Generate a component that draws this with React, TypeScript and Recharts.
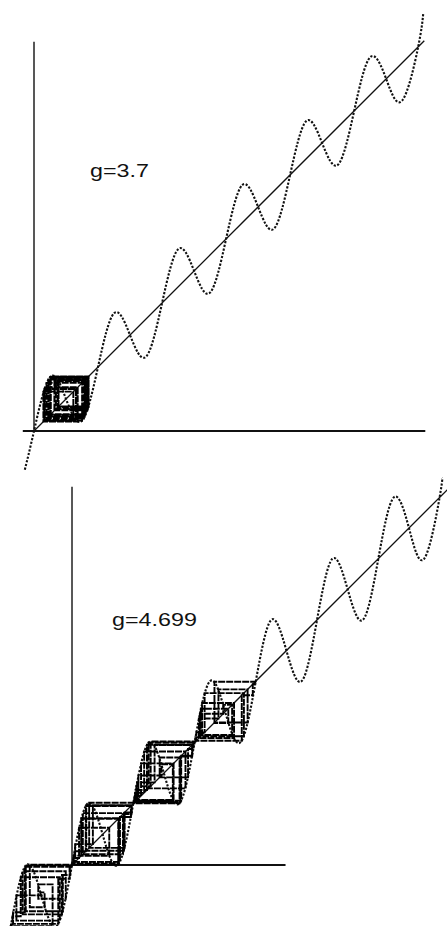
import React from "react";
import { LineChart, Line, XAxis, YAxis } from "recharts";

// g = 3.7 panel: curve y = x + g·sin(x), read at quarter periods
const topCurveX = [-0.9, 0, 1.57, 3.14, 4.71, 6.28, 7.85, 9.42, 11.0, 12.57, 14.14, 15.71, 17.28, 18.85, 20.42, 21.99, 23.56, 25.13, 26.7, 28.27, 29.85, 31.42, 32.99, 34.56, 36.13, 37.7, 38.2];
const topCurveY = [-3.8, 0, 5.27, 3.14, 1.01, 6.28, 11.55, 9.42, 7.3, 12.57, 17.84, 15.71, 13.58, 18.85, 24.12, 21.99, 19.86, 25.13, 30.4, 28.27, 26.15, 31.42, 36.69, 34.56, 32.43, 37.7, 41.0];
const topOrbit = [2.0, 5.36, 2.41, 4.88, 1.23, 4.72, 1.02, 4.17, 1.0, 4.11, 1.06, 4.29, 0.92, 3.86, 1.43, 5.09, 1.65, 5.34, 2.35, 4.98, 1.41, 5.06, 1.58, 5.28, 2.16, 5.24, 2.04];
const topAxisExtent = { xMin: -1.1, xMax: 38.4, yMax: 38.2, diag: 38.3 };

// g = 4.699 panel
const bottomCurveX = [-6.28, -4.71, -3.14, -1.57, 0, 1.57, 3.14, 4.71, 6.28, 7.85, 9.42, 11.0, 12.57, 14.14, 15.71, 17.28, 18.85, 20.42, 21.99, 23.56, 25.13, 26.7, 28.27, 29.85, 31.42, 32.99, 34.56, 36.13, 37.7, 37.95];
const bottomCurveY = [-6.28, -0.01, -3.14, -6.27, 0, 6.27, 3.14, 0.01, 6.28, 12.55, 9.42, 6.3, 12.57, 18.84, 15.71, 12.58, 18.85, 25.12, 21.99, 18.86, 25.13, 31.4, 28.27, 25.15, 31.42, 37.69, 34.56, 31.43, 37.7, 39.7];
const bottomOrbit = [
  -0.94, -4.74, -0.04, -0.25, -1.41, -6.04, -4.84, -0.18, -1.03, -5.06, -0.64, -3.46, -1.99, -6.28, -6.25, -6.1, -5.26, -1.25, -5.7, -3.12, -3.23, -2.81, -4.33,
  0.03, 0.17, 0.96, 4.81, 0.13, 0.72, 3.82, 0.94, 4.74, 0.04, 0.25, 1.41, 6.04, 4.92, 0.32, 2.14, 6.1, 5.22, 1.11, 5.32, 1.46, 6.13, 5.4, 1.76,
  6.38, 6.81, 9.18, 10.34, 6.68, 8.47, 12.31, 11.11, 6.44, 7.08, 10.42, 6.48, 7.4, 11.64, 7.86, 12.56, 12.55, 12.45, 11.9, 8.99, 11.03, 6.33, 6.53, 7.69, 12.33, 11.2, 6.6, 8.07,
  12.66, 13.11, 15.51, 16.42, 13.34, 16.62, 13.01, 15.02, 18.01, 14.61, 18.8, 18.54, 17.41, 12.75, 13.6, 17.63, 13.21, 16.03, 14.56,
];
const bottomAxisExtent = { xMin: 0, xMax: 21.9, yMax: 38.8, diag: 38.5 };

const zip = (xs: number[], ys: number[]) => xs.map((x, i) => ({ x, y: ys[i] }));

// cobweb: (x0,x0) -> (x0,x1) -> (x1,x1) -> ...
const cobweb = (orbit: number[]) => {
  const pts: { x: number; y: number }[] = [];
  orbit.forEach((v, i) => {
    pts.push({ x: v, y: v });
    if (i + 1 < orbit.length) pts.push({ x: v, y: orbit[i + 1] });
  });
  return pts;
};

type PanelProps = {
  top: number;
  height: number;
  xDomain: [number, number];
  yDomain: [number, number];
  curve: { x: number; y: number }[];
  orbit: number[];
  ext: { xMin: number; xMax: number; yMax: number; diag: number };
};

const Panel = ({ top, height, xDomain, yDomain, curve, orbit, ext }: PanelProps) => {
  const xAxisLine = [{ x: ext.xMin, y: 0 }, { x: ext.xMax, y: 0 }];
  const yAxisLine = [{ x: 0, y: 0 }, { x: 0, y: ext.yMax }];
  const diagonal = [{ x: 0, y: 0 }, { x: ext.diag, y: ext.diag }];
  return (
    <div style={{ position: "absolute", left: 0, top }}>
      <LineChart width={447} height={height} margin={{ top: 0, right: 0, bottom: 0, left: 0 }}>
        <XAxis type="number" dataKey="x" domain={xDomain} allowDataOverflow hide />
        <YAxis type="number" dataKey="y" domain={yDomain} allowDataOverflow hide />
        <Line data={yAxisLine} dataKey="y" type="linear" stroke="#111" strokeWidth={1.4} dot={false} activeDot={false} isAnimationActive={false} />
        <Line data={xAxisLine} dataKey="y" type="linear" stroke="#111" strokeWidth={1.8} dot={false} activeDot={false} isAnimationActive={false} />
        <Line data={diagonal} dataKey="y" type="linear" stroke="#111" strokeWidth={1.3} dot={false} activeDot={false} isAnimationActive={false} />
        <Line data={curve} dataKey="y" type="natural" stroke="#111" strokeWidth={2.1} strokeDasharray="2.2 1.6" dot={false} activeDot={false} isAnimationActive={false} />
        <Line data={cobweb(orbit)} dataKey="y" type="linear" stroke="#000" strokeWidth={1.9} strokeDasharray="7 1" dot={false} activeDot={false} isAnimationActive={false} />
      </LineChart>
    </div>
  );
};

const labelStyle: React.CSSProperties = {
  position: "absolute",
  fontFamily: "'Liberation Sans', Arial, sans-serif",
  lineHeight: 1,
  color: "#111",
  transformOrigin: "left top",
  whiteSpace: "nowrap",
};

export default function App() {
  return (
    <div style={{ position: "absolute", left: 0, top: 0, width: 447, height: 926, background: "#fff", overflow: "hidden" }}>
      <Panel
        top={0}
        height={480}
        xDomain={[-3.337, 40.53]}
        yDomain={[-4.809, 42.3]}
        curve={zip(topCurveX, topCurveY)}
        orbit={topOrbit}
        ext={topAxisExtent}
      />
      <Panel
        top={470}
        height={456}
        xDomain={[-7.385, 38.46]}
        yDomain={[-6.256, 40.51]}
        curve={zip(bottomCurveX, bottomCurveY)}
        orbit={bottomOrbit}
        ext={bottomAxisExtent}
      />
      <div style={{ ...labelStyle, left: 90, top: 163, fontSize: 17.5, transform: "scaleX(1.33)" }}>g=3.7</div>
      <div style={{ ...labelStyle, left: 112, top: 611, fontSize: 18.5, transform: "scaleX(1.26)" }}>g=4.699</div>
    </div>
  );
}
